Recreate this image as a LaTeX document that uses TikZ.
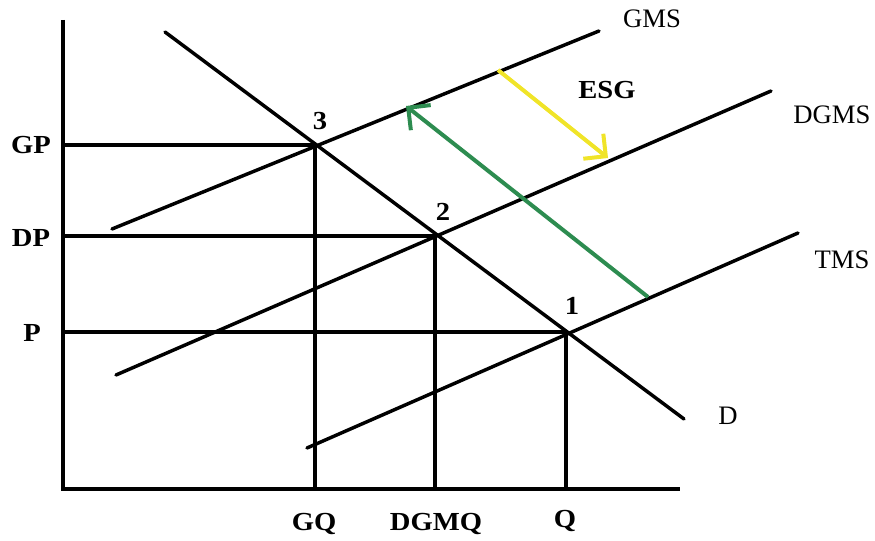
\documentclass[tikz,border=0pt]{standalone}
\usepackage{fontspec}
\setmainfont{Liberation Serif}
\usetikzlibrary{arrows.meta}
\definecolor{esgyellow}{RGB}{240,228,40}
\definecolor{esggreen}{RGB}{45,140,80}
\begin{document}
\begin{tikzpicture}[x=0.75pt,y=-0.75pt,
  curve/.style={line width=2.6pt,line cap=round},
  guide/.style={line width=2.9pt},
  boldlbl/.style={font=\fontsize{19.5}{20}\selectfont\bfseries,inner sep=0pt,xscale=1.1},
  plainlbl/.style={font=\fontsize{20}{21}\selectfont,inner sep=0pt},
  shiftarrow/.style={line width=3pt,-{Straight Barb[length=12pt,width=24pt,line width=3pt]}}]
\useasboundingbox (0,0) rectangle (875,541);
% axes
\coordinate (ytop) at (63,20);
\coordinate (org) at (63,489);
\coordinate (xend) at (680,489);
\draw[guide] (ytop) -- (org) -- (xend);
% curves
\coordinate (d1) at (165,32);  \coordinate (d2) at (684,419);
\coordinate (g1) at (112,229); \coordinate (g2) at (599,31);
\coordinate (m1) at (116,375); \coordinate (m2) at (771,91);
\coordinate (t1) at (307,448); \coordinate (t2) at (798,233);
\draw[curve] (d1) -- (d2);
\draw[curve] (g1) -- (g2);
\draw[curve] (m1) -- (m2);
\draw[curve] (t1) -- (t2);
% equilibria
\coordinate (e3) at (315,145);
\coordinate (e2) at (435,236);
\coordinate (e1) at (566,332);
\coordinate (gpa) at (63,145); \coordinate (gqa) at (315,489);
\coordinate (dpa) at (63,236); \coordinate (dqa) at (435,489);
\coordinate (pa) at (63,332);  \coordinate (qa) at (566,489);
\draw[guide] (gpa) -- (e3) -- (gqa);
\draw[guide] (dpa) -- (e2) -- (dqa);
\draw[guide] (pa) -- (e1) -- (qa);
% shift arrows
\coordinate (ys) at (498,70); \coordinate (ye) at (608,158);
\coordinate (gs) at (648,297); \coordinate (ge) at (406,106);
\draw[shiftarrow,esgyellow] (ys) -- (ye);
\draw[shiftarrow,esggreen] (gs) -- (ge);
% labels
\node[boldlbl] (lgp) at (31,145) {GP};
\node[boldlbl] (ldp) at (31,238) {DP};
\node[boldlbl] (lp) at (32,333) {P};
\node[boldlbl] (lgq) at (314,524) {GQ};
\node[boldlbl] (ldgmq) at (436,524) {DGMQ};
\node[boldlbl] (lq) at (565,521) {Q};
\node[boldlbl] (l3) at (320,121) {3};
\node[boldlbl] (l2) at (443,212) {2};
\node[boldlbl] (l1) at (572,306) {1};
\node[boldlbl] (lesg) at (607,90) {ESG};
\node[plainlbl] (lgms) at (652,19) {GMS};
\node[plainlbl] (ldgms) at (832,115) {DGMS};
\node[plainlbl] (ltms) at (842,260) {TMS};
\node[plainlbl] (ld) at (728,416) {D};
\end{tikzpicture}
\end{document}
